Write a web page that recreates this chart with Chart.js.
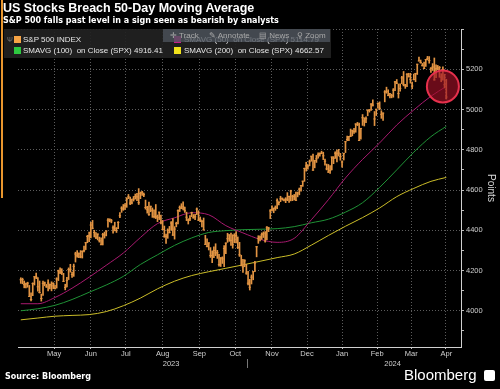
<!DOCTYPE html>
<html>
<head>
<meta charset="utf-8">
<script src="https://cdn.jsdelivr.net/npm/chart.js@4.4.1/dist/chart.umd.min.js"></script>
<style>
  html, body { margin: 0; padding: 0; background: #000; }
  #wrap { position: relative; width: 500px; height: 389px; overflow: hidden; background: #000;
          font-family: "Liberation Sans", Arial, sans-serif; color: #fff; }
  #chart { position: absolute; left: 0; top: 0; }
  .abs { position: absolute; white-space: nowrap; }
  .title { left: 3px; top: 1px; font-weight: bold; font-size: 12.5px; }
  .subtitle { left: 3px; top: 16px; font-family: "DejaVu Sans", sans-serif; font-weight: bold; font-size: 8px; }
  .edge { left: 1px; top: 0; width: 1.5px; height: 198px; background: #e8962e; }
  .legend { left: 4px; top: 29px; width: 327px; height: 29px; background: rgba(34,34,34,0.92); }
  .sw { position: absolute; width: 7px; height: 7px; }
  .lt { position: absolute; font-size: 8px; color: #e6e6e6; white-space: pre; line-height: 8px; }
  .pin { position: absolute; left: 3px; top: 7px; font-size: 7px; color: #777; }
  .tools { left: 163px; top: 29px; width: 167px; height: 13px; background: rgba(78,84,94,0.78);
           font-size: 8px; color: #a8a8a8; line-height: 13px; }
  .tools span { position: absolute; top: 0; }
  .source { left: 5px; top: 372px; font-family: "DejaVu Sans", sans-serif; font-weight: bold; font-size: 8px; }
  .logo { left: 404px; top: 366px; font-size: 15px; }
  .icon { left: 484px; top: 370px; width: 11px; height: 11px; background: #fff; border-radius: 2px; }
</style>
</head>
<body>
<div id="wrap">
  <canvas id="chart" width="500" height="389"></canvas>
  <div class="abs edge"></div>
  <div class="abs title">US Stocks Breach 50-Day Moving Average</div>
  <div class="abs subtitle">S&amp;P 500 falls past level in a sign seen as bearish by analysts</div>
  <div class="abs legend">
    <div class="pin">&#936;</div>
    <div class="sw" style="left:10px;top:7px;background:#f7a445"></div>
    <div class="lt" style="left:19px;top:7px">S&amp;P 500 INDEX</div>
    <div class="sw" style="left:170px;top:7px;background:#c41f8a"></div>
    <div class="lt" style="left:180px;top:7px">SMAVG (50)  on Close (SPX) 5114.79</div>
    <div class="sw" style="left:10px;top:18px;background:#2ec840"></div>
    <div class="lt" style="left:19px;top:18px">SMAVG (100)  on Close (SPX) 4916.41</div>
    <div class="sw" style="left:170px;top:18px;background:#f2e21c"></div>
    <div class="lt" style="left:180px;top:18px">SMAVG (200)  on Close (SPX) 4662.57</div>
  </div>
  <div class="abs tools">
    <span style="left:7px">&#10011; Track</span>
    <span style="left:46px">&#9998; Annotate</span>
    <span style="left:96px">&#9636; News</span>
    <span style="left:134px">&#9906; Zoom</span>
  </div>
  <div class="abs source">Source: Bloomberg</div>
  <div class="abs logo">Bloomberg</div>
  <div class="abs icon"></div>
</div>
<script>
// S&P 500 daily bars, 18 Apr 2023 .. 15 Apr 2024 (one row per month)
const closes = [
  4154, 4155, 4130, 4133, 4137, 4071, 4056, 4135, 4169,
  4168, 4119, 4091, 4061, 4136, 4138, 4119, 4138, 4131, 4124, 4136, 4110, 4158, 4198, 4192, 4192, 4146, 4116, 4151, 4205, 4206, 4180,
  4221, 4282, 4273, 4283, 4268, 4294, 4299, 4338, 4369, 4373, 4426, 4410, 4389, 4366, 4381, 4348, 4328, 4378, 4376, 4396, 4450,
  4455, 4447, 4412, 4399, 4410, 4439, 4472, 4510, 4505, 4522, 4555, 4566, 4535, 4536, 4555, 4567, 4566, 4537, 4582, 4589,
  4577, 4513, 4502, 4478, 4519, 4499, 4468, 4469, 4464, 4490, 4437, 4404, 4370, 4370, 4400, 4388, 4436, 4376, 4406, 4433, 4497, 4514, 4508,
  4516, 4497, 4465, 4451, 4457, 4487, 4462, 4467, 4505, 4450, 4454, 4444, 4402, 4330, 4320, 4337, 4274, 4274, 4300, 4288,
  4288, 4229, 4263, 4258, 4309, 4336, 4358, 4377, 4350, 4328, 4374, 4373, 4315, 4278, 4224, 4218, 4248, 4187, 4137, 4117, 4167, 4194,
  4237, 4318, 4358, 4366, 4378, 4383, 4347, 4415, 4411, 4496, 4502, 4508, 4514, 4547, 4538, 4556, 4559, 4550, 4555, 4551, 4568,
  4595, 4569, 4567, 4549, 4585, 4604, 4622, 4644, 4707, 4720, 4719, 4740, 4768, 4699, 4746, 4755, 4775, 4781, 4783, 4770,
  4743, 4705, 4689, 4697, 4764, 4757, 4783, 4780, 4784, 4766, 4739, 4781, 4840, 4851, 4865, 4868, 4894, 4891, 4928, 4925, 4846,
  4906, 4959, 4943, 4954, 4995, 4998, 5027, 5022, 4953, 5001, 5030, 5006, 4976, 4982, 5087, 5089, 5070, 5078, 5069, 5096,
  5137, 5131, 5079, 5105, 5157, 5124, 5118, 5175, 5165, 5150, 5117, 5149, 5179, 5225, 5241, 5234, 5218, 5204, 5248, 5254,
  5243, 5205, 5211, 5147, 5204, 5202, 5209, 5161, 5199, 5123, 5062
];
const highs = [
  4164, 4162, 4148, 4138, 4142, 4126, 4089, 4139, 4170,
  4187, 4165, 4148, 4083, 4147, 4143, 4131, 4154, 4133, 4144, 4139, 4127, 4164, 4202, 4213, 4209, 4186, 4132, 4166, 4213, 4231, 4192,
  4232, 4291, 4299, 4288, 4299, 4298, 4322, 4340, 4375, 4391, 4439, 4449, 4400, 4389, 4382, 4366, 4363, 4385, 4391, 4398, 4458,
  4456, 4454, 4422, 4440, 4413, 4443, 4488, 4517, 4528, 4532, 4562, 4578, 4565, 4555, 4568, 4580, 4583, 4607, 4590, 4594,
  4585, 4550, 4519, 4540, 4520, 4511, 4502, 4528, 4476, 4490, 4476, 4449, 4421, 4381, 4407, 4419, 4443, 4458, 4418, 4440, 4501, 4521, 4532,
  4541, 4515, 4490, 4457, 4473, 4490, 4478, 4479, 4511, 4497, 4466, 4449, 4461, 4375, 4357, 4338, 4314, 4297, 4318, 4333,
  4300, 4281, 4264, 4268, 4324, 4337, 4385, 4378, 4386, 4378, 4383, 4393, 4367, 4340, 4276, 4255, 4254, 4231, 4196, 4156, 4178, 4195,
  4246, 4320, 4373, 4372, 4387, 4392, 4393, 4418, 4415, 4503, 4521, 4511, 4521, 4556, 4542, 4569, 4560, 4555, 4562, 4587, 4570,
  4599, 4574, 4578, 4590, 4590, 4610, 4623, 4644, 4709, 4738, 4725, 4749, 4768, 4778, 4748, 4772, 4785, 4785, 4793, 4788,
  4754, 4729, 4727, 4721, 4764, 4766, 4790, 4799, 4802, 4782, 4745, 4783, 4842, 4868, 4867, 4903, 4898, 4907, 4929, 4936, 4932,
  4906, 4975, 4959, 4963, 4999, 5000, 5030, 5048, 4990, 5002, 5033, 5038, 4994, 4983, 5094, 5111, 5098, 5080, 5076, 5104,
  5140, 5149, 5127, 5127, 5165, 5189, 5125, 5179, 5180, 5180, 5136, 5176, 5180, 5225, 5261, 5246, 5229, 5236, 5249, 5264,
  5263, 5208, 5228, 5256, 5222, 5219, 5214, 5178, 5212, 5175, 5150
];
const lows = [
  4136, 4134, 4114, 4113, 4117, 4071, 4049, 4075, 4128,
  4159, 4098, 4088, 4048, 4076, 4124, 4116, 4099, 4109, 4099, 4110, 4109, 4113, 4150, 4184, 4180, 4145, 4104, 4118, 4155, 4192, 4166,
  4171, 4242, 4266, 4264, 4263, 4262, 4292, 4304, 4338, 4343, 4362, 4407, 4367, 4358, 4352, 4341, 4328, 4327, 4361, 4372, 4416,
  4442, 4437, 4385, 4397, 4389, 4408, 4463, 4489, 4499, 4503, 4514, 4557, 4527, 4531, 4545, 4555, 4547, 4528, 4557, 4573,
  4567, 4505, 4485, 4474, 4492, 4464, 4461, 4458, 4443, 4453, 4432, 4403, 4365, 4335, 4360, 4387, 4401, 4375, 4356, 4417, 4431, 4493, 4507,
  4501, 4489, 4448, 4431, 4448, 4467, 4460, 4453, 4478, 4448, 4442, 4417, 4401, 4329, 4317, 4302, 4265, 4239, 4264, 4274,
  4260, 4221, 4220, 4235, 4219, 4284, 4340, 4345, 4325, 4311, 4338, 4337, 4309, 4270, 4224, 4190, 4219, 4181, 4128, 4103, 4133, 4154,
  4194, 4268, 4335, 4347, 4355, 4364, 4341, 4353, 4393, 4458, 4496, 4487, 4499, 4507, 4526, 4542, 4550, 4546, 4537, 4547, 4538,
  4546, 4547, 4551, 4547, 4566, 4576, 4594, 4618, 4643, 4694, 4704, 4720, 4743, 4697, 4710, 4737, 4758, 4768, 4780, 4751,
  4723, 4700, 4687, 4682, 4700, 4731, 4757, 4740, 4769, 4748, 4714, 4749, 4786, 4845, 4845, 4865, 4869, 4881, 4887, 4920, 4845,
  4853, 4921, 4918, 4934, 4969, 4987, 4996, 5017, 4920, 4970, 5007, 4999, 4956, 4946, 5038, 5081, 5068, 5057, 5058, 5061,
  5094, 5128, 5057, 5091, 5128, 5117, 5105, 5114, 5161, 5131, 5104, 5147, 5138, 5174, 5241, 5230, 5216, 5203, 5214, 5246,
  5230, 5184, 5194, 5146, 5158, 5198, 5160, 5138, 5146, 5107, 5052
];

// moving averages, every 10 trading days
const maIdx = [0, 10, 20, 30, 40, 50, 60, 70, 80, 90, 100, 110, 120, 130, 140, 150, 160, 170, 180, 190, 200, 210, 220, 230, 240, 249];
const sma50 = [4035, 4035, 4066, 4112, 4167, 4226, 4287, 4364, 4433, 4462, 4487, 4477, 4423, 4387, 4355, 4340, 4360, 4452, 4552, 4660, 4752, 4834, 4923, 4998, 5066, 5114.79];
const sma100 = [4000, 4010, 4027, 4056, 4092, 4128, 4171, 4230, 4278, 4325, 4362, 4389, 4398, 4403, 4405, 4408, 4418, 4437, 4455, 4490, 4537, 4613, 4700, 4788, 4865, 4916.41];
const sma200 = [3955, 3964, 3973, 3977, 3981, 3996, 4025, 4063, 4109, 4147, 4175, 4194, 4211, 4228, 4246, 4264, 4282, 4326, 4374, 4420, 4463, 4511, 4567, 4608, 4643, 4662.57];

// first trading day index of each month (last entry = May 2024)
const monthStarts = [9, 31, 52, 72, 95, 115, 137, 158, 178, 199, 219, 239, 260];
const monthLabels = ['May', 'Jun', 'Jul', 'Aug', 'Sep', 'Oct', 'Nov', 'Dec', 'Jan', 'Feb', 'Mar', 'Apr'];
const yearLabels = ['2023', '2024'];
const yearBreak = 178;

// highlighted breach of the 50-day average
const breachIdx = 247;
const breachLevel = 5114.79;

const xMin = -1.63;
const xMax = 257.6;
const yTicks = [];
for (let v = 3900; v <= 5400; v += 100) yTicks.push(v);

if (closes.length !== 250 || highs.length !== 250 || lows.length !== 250) {
  throw new Error('bar arrays length mismatch ' + closes.length + ' ' + highs.length + ' ' + lows.length);
}

const barData = highs.map((h, i) => ({ x: i, y: [lows[i], h] }));
const closeData = closes.map((c, i) => ({ x: i, y: c }));
const maLine = (vals) => vals.map((v, i) => ({ x: maIdx[i], y: v }));

const gridBoundaries = monthStarts.slice(0, 12).map((s) => s - 0.5);
const monthMids = monthLabels.map((_, i) => (monthStarts[i] + monthStarts[i + 1]) / 2 - 0.5);
const yearTicks = [(xMin + yearBreak - 0.5) / 2, yearBreak - 0.5, (yearBreak - 0.5 + xMax) / 2];

const orange = '#e29443';
const axisFont = { family: 'Liberation Sans', size: 7.5 };

function maDataset(label, vals, color, order) {
  return {
    type: 'line',
    label,
    data: maLine(vals),
    borderColor: color,
    borderWidth: 1,
    pointRadius: 0,
    cubicInterpolationMode: 'monotone',
    order,
  };
}

const chart = new Chart(document.getElementById('chart'), {
  type: 'bar',
  data: {
    datasets: [
      {
        type: 'scatter',
        label: 'breach',
        data: [{ x: breachIdx, y: breachLevel }],
        pointRadius: 16,
        backgroundColor: 'rgba(160, 16, 38, 0.66)',
        borderColor: '#e6304c',
        borderWidth: 2,
        order: 0,
      },
      {
        type: 'scatter',
        label: 'close',
        data: closeData,
        pointStyle: 'line',
        pointRadius: 1.2,
        borderColor: orange,
        borderWidth: 1,
        order: 1,
      },
      {
        type: 'bar',
        label: 'S&P 500 INDEX',
        data: barData,
        backgroundColor: orange,
        barThickness: 1,
        grouped: false,
        order: 2,
      },
      maDataset('SMAVG (50)', sma50, '#a8196f', 3),
      maDataset('SMAVG (100)', sma100, '#1f9236', 4),
      maDataset('SMAVG (200)', sma200, '#cbbd28', 5),
    ],
  },
  options: {
    responsive: false,
    animation: false,
    events: [],
    layout: { padding: { top: 29, left: 0, right: 0, bottom: 0 } },
    plugins: { legend: { display: false }, tooltip: { enabled: false } },
    scales: {
      x: {
        type: 'linear',
        position: 'bottom',
        weight: 0,
        min: xMin,
        max: xMax,
        offset: false,
        afterBuildTicks: (axis) => { axis.ticks = gridBoundaries.map((v) => ({ value: v })); },
        afterFit: (axis) => { axis.height = 2; },
        ticks: { display: false },
        grid: { color: '#5c5c5c', tickLength: 2, tickColor: '#bbb', tickBorderDash: [] },
        border: { color: '#d0d0d0', width: 1, dash: [1, 2] },
      },
      xm: {
        type: 'linear',
        position: 'bottom',
        weight: 1,
        min: xMin,
        max: xMax,
        offset: false,
        afterBuildTicks: (axis) => { axis.ticks = monthMids.map((v) => ({ value: v })); },
        afterFit: (axis) => { axis.height = 10; },
        ticks: {
          autoSkip: false,
          maxRotation: 0,
          padding: 0,
          color: '#cfcfcf',
          font: axisFont,
          callback: (v, i) => monthLabels[i],
        },
        grid: { display: false, drawTicks: false },
        border: { display: false },
      },
      xy: {
        type: 'linear',
        position: 'bottom',
        weight: 2,
        min: xMin,
        max: xMax,
        offset: false,
        afterBuildTicks: (axis) => { axis.ticks = yearTicks.map((v) => ({ value: v })); },
        afterFit: (axis) => { axis.height = 30; },
        ticks: {
          autoSkip: false,
          maxRotation: 0,
          padding: -9,
          color: '#cfcfcf',
          font: axisFont,
          callback: (v, i) => (i === 0 ? yearLabels[0] : i === 2 ? yearLabels[1] : ''),
        },
        grid: {
          drawOnChartArea: false,
          tickLength: 9,
          color: (ctx) => (ctx.index === 1 ? '#777' : 'rgba(0,0,0,0)'),
        },
        border: { display: false },
      },
      y: {
        type: 'linear',
        position: 'right',
        min: 3820,
        max: 5400,
        afterBuildTicks: (axis) => { axis.ticks = yTicks.map((v) => ({ value: v })); },
        afterFit: (axis) => { axis.width = 39; },
        ticks: {
          padding: 2,
          color: '#cfcfcf',
          font: axisFont,
          callback: (v) => (v % 200 === 0 && v < 5400 ? String(v) : ''),
        },
        grid: {
          color: (ctx) => (ctx.tick && ctx.tick.value % 200 === 0 ? '#5c5c5c' : 'rgba(0,0,0,0)'),
          tickColor: '#bbb',
          tickLength: 3,
          tickBorderDash: [],
        },
        border: { color: '#d0d0d0', width: 1, dash: [1, 2] },
        title: {
          display: true,
          text: 'Points',
          color: '#d8d8d8',
          font: { family: 'Liberation Sans', size: 10 },
          padding: { top: 3, bottom: 0 },
        },
      },
    },
  },
});
</script>
</body>
</html>
